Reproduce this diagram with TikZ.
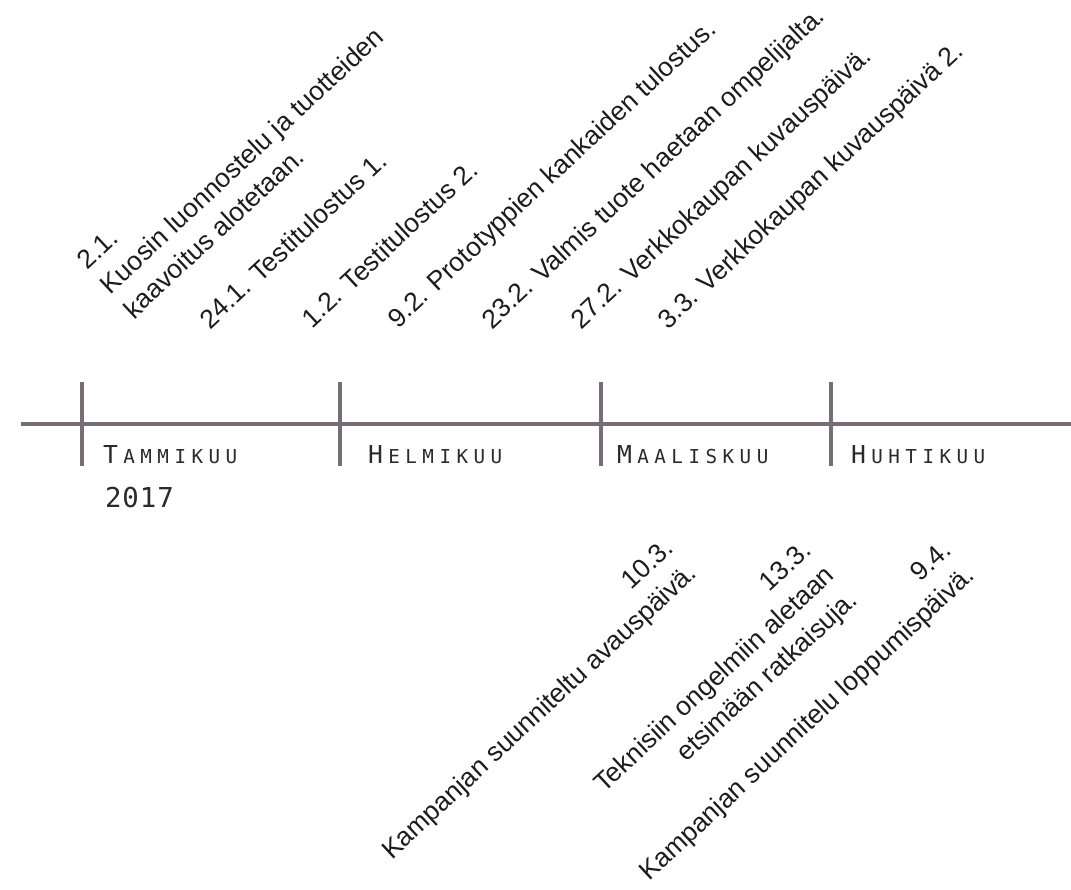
\documentclass[tikz,border=0pt]{standalone}
\usepackage{fontspec}
\setmainfont{Liberation Sans}
\newfontfamily\monthfont{DejaVu Sans Mono}
\definecolor{axisgray}{HTML}{766D77}
\definecolor{ink}{HTML}{1C1C1C}
\definecolor{monthink}{HTML}{2A2A2A}
\newlength\ltrsp
\setlength\ltrsp{5.5pt}
\def\spacedi#1{\ifx#1\relax\else#1\kern\ltrsp\expandafter\spacedi\fi}
\newcommand\monthname[2]{{\monthfont\fontsize{24.7}{26}\selectfont #1}\kern\ltrsp{\monthfont\fontsize{19.2}{22}\selectfont\spacedi#2\relax}}
\begin{document}
\begin{tikzpicture}[x=1pt,y=1pt,
  axisline/.style={draw=axisgray, line width=4.5pt},
  tickline/.style={draw=axisgray, line width=4.5pt},
  event/.style={inner sep=0pt, outer sep=0pt, text=ink, font=\fontsize{26.5}{34}\selectfont, rotate=43},
  upper/.style={event, anchor=base west, align=left},
  lower/.style={event, anchor=base east, align=right},
  month/.style={inner sep=0pt, outer sep=0pt, anchor=base west, text=monthink}]
\useasboundingbox (0,0) rectangle (1071,-889);
% axis
\coordinate (axL) at (21,-424);
\coordinate (axR) at (1071,-424);
\draw[axisline] (axL) -- (axR);
% ticks
\coordinate (jan1) at (82,-382);  \coordinate (jan2) at (82,-466);
\coordinate (feb1) at (340,-382); \coordinate (feb2) at (340,-466);
\coordinate (mar1) at (601,-382); \coordinate (mar2) at (601,-466);
\coordinate (apr1) at (831,-382); \coordinate (apr2) at (831,-466);
\draw[tickline] (jan1) -- (jan2);
\draw[tickline] (feb1) -- (feb2);
\draw[tickline] (mar1) -- (mar2);
\draw[tickline] (apr1) -- (apr2);
% month labels
\node[month] (mjan) at (103,-463) {\monthname{T}{AMMIKUU}};
\node[month] (myear) at (105,-507) {\monthfont\fontsize{27.4}{30}\selectfont 2\kern1pt0\kern1pt1\kern1pt7};
\node[month] (mfeb) at (368,-463) {\monthname{H}{ELMIKUU}};
\node[month] (mmar) at (617,-463) {\monthname{M}{AALISKUU}};
\node[month] (mapr) at (851,-463) {\monthname{H}{UHTIKUU}};
% upper events (base = last line)
\node[upper] (e1) at (134,-320) {2.1.\\Kuosin luonnostelu ja tuotteiden\\kaavoitus alotetaan.};
\node[upper] (e2) at (210,-330) {24.1. Testitulostus 1.};
\node[upper] (e3) at (312,-329) {1.2. Testitulostus 2.};
\node[upper] (e4) at (398,-329) {9.2. Prototyppien kankaiden tulostus.};
\node[upper] (e5) at (492,-330) {23.2. Valmis tuote haetaan ompelijalta.};
\node[upper] (e6) at (581,-330) {27.2. Verkkokaupan kuvauspäivä.};
\node[upper] (e7) at (668,-330) {3.3. Verkkokaupan kuvauspäivä 2.};
% lower events (base = last line)
\node[lower] (l1) at (698,-575) {10.3.\\Kampanjan suunniteltu avauspäivä.};
\node[lower] (l2) at (859,-602) {13.3.\\Teknisiin ongelmiin aletaan\\etsimään ratkaisuja.};
\node[lower] (l3) at (976,-577) {9.4.\\Kampanjan suunnitelu loppumispäivä.};
\end{tikzpicture}
\end{document}
